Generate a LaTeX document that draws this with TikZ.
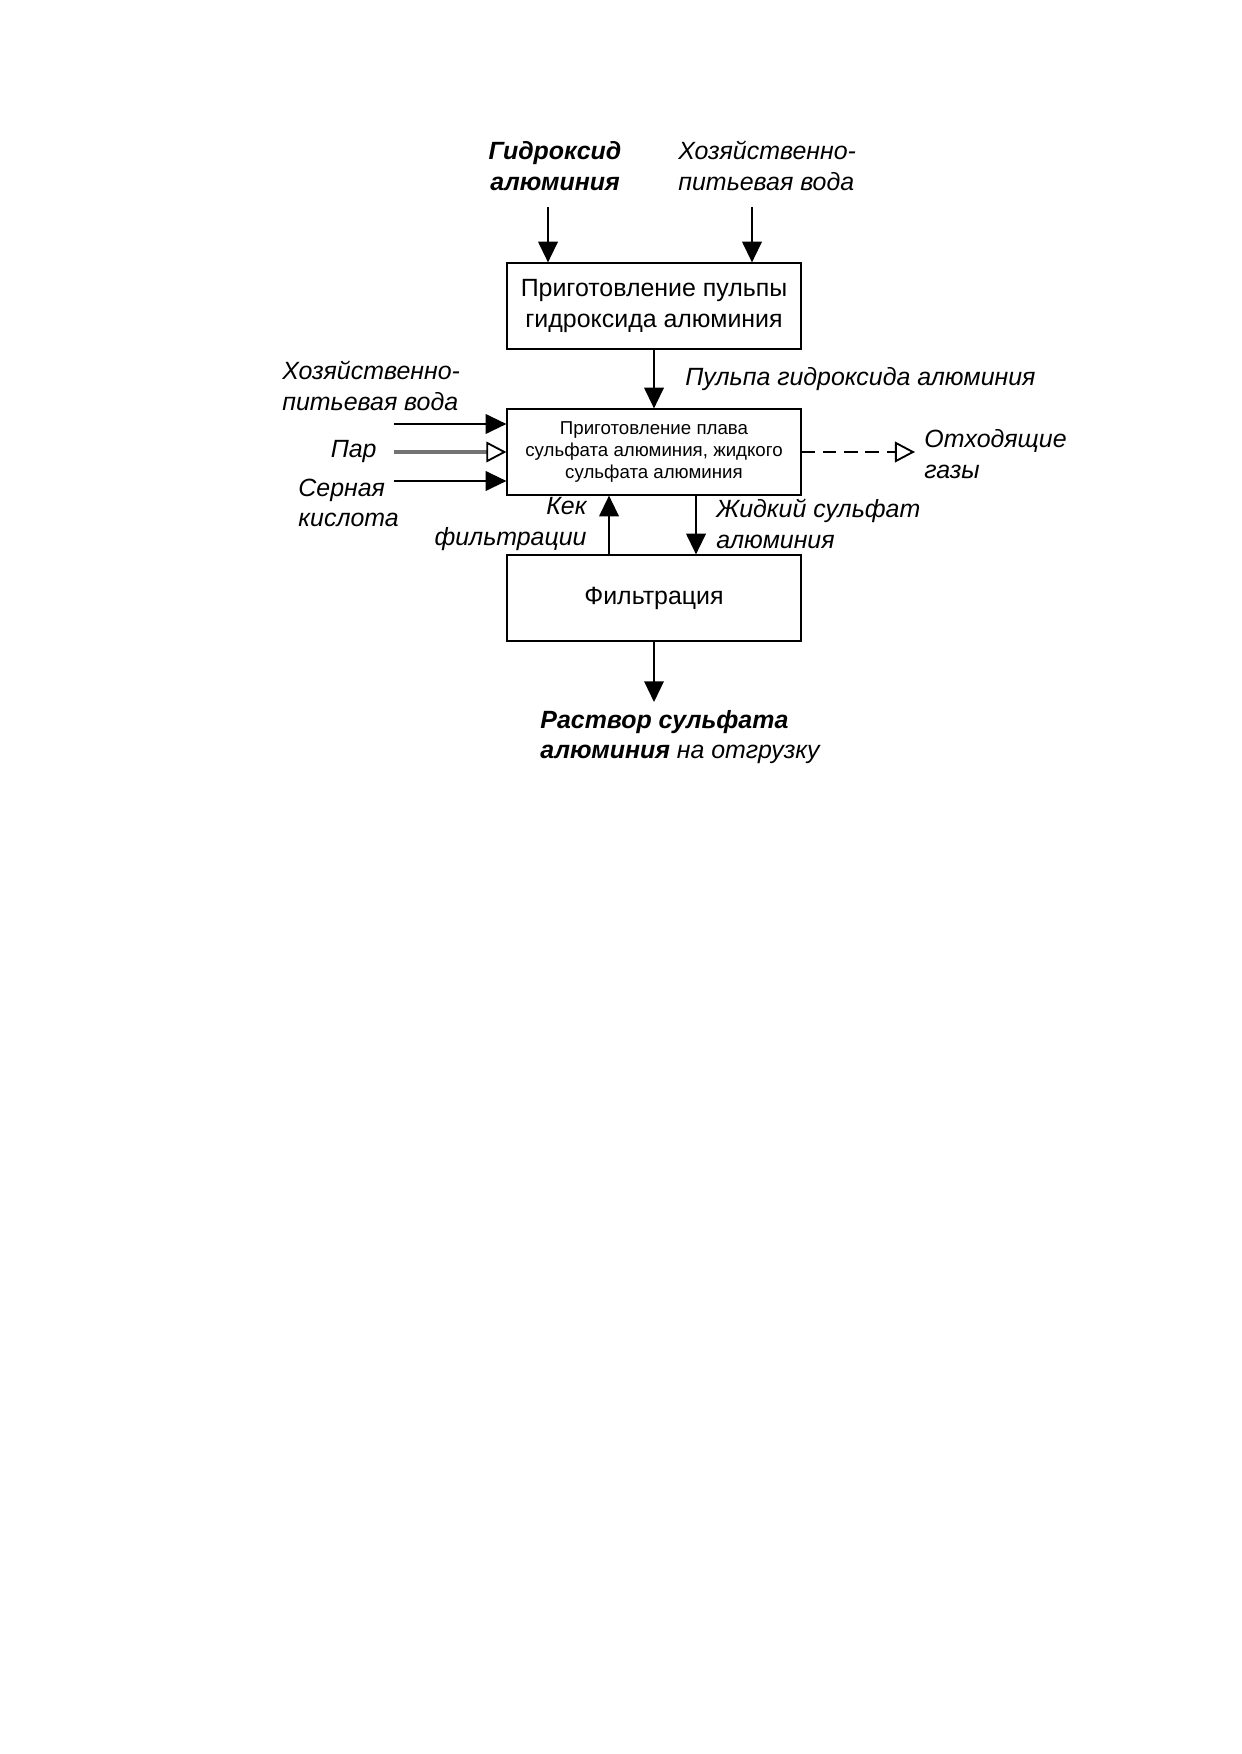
\documentclass[tikz,border=0pt]{standalone}
\usepackage{fontspec}
\setmainfont{Liberation Sans}
\usetikzlibrary{arrows.meta}

\tikzset{
  proc/.style={draw,line width=1pt,minimum width=49.6mm,minimum height=14.4mm,align=center,inner sep=1pt},
  lbl/.style={inner sep=0pt,font=\fontsize{12}{14.6}\selectfont\itshape},
  flow/.style={line width=0.9pt,-{Triangle[length=3.5mm,width=3.3mm]}},
  flowopen/.style={line width=0.9pt,-{Triangle[open,length=3.4mm,width=3.5mm]}},
}

\begin{document}
\begin{tikzpicture}[x=0.16922mm,y=-0.16922mm]
          \useasboundingbox (0,0) rectangle (1241,1754);

          % boxes
          \node[proc,font=\fontsize{12}{14.5}\selectfont] (pulp) at (654,306) {Приготовление пульпы\\гидроксида алюминия};
          \node[proc,font=\fontsize{9}{10.8}\selectfont] (melt) at (654,452) {Приготовление плава\\сульфата алюминия, жидкого\\сульфата алюминия};
          \node[proc,font=\fontsize{12}{14.5}\selectfont] (filt) at (654,598) {Фильтрация};

          % labels
          \node[lbl,align=center] (hydr) at (555,166) {\bfseries Гидроксид\\\bfseries алюминия};
          \node[lbl,align=left,anchor=west] (waterA) at (678,166) {Хозяйственно-\\питьевая вода};
          \node[lbl,align=left,anchor=west] (pulpLbl) at (685,379) {Пульпа гидроксида алюминия};
          \node[lbl,align=left,anchor=west] (waterB) at (282,386) {Хозяйственно-\\питьевая вода};
          \node[lbl,anchor=east] (steam) at (377,452) {Пар};
          \node[lbl,align=left,anchor=west] (acid) at (298,503) {Серная\\кислота};
          \node[lbl,align=left,anchor=west] (gas) at (924,454) {Отходящие\\газы};
          \node[lbl,align=right,anchor=east] (cake) at (587,524) {Кек\\фильтрации};
          \node[lbl,align=left,anchor=west] (liquid) at (716,524) {Жидкий сульфат\\алюминия};
          \node[lbl,align=left,anchor=west] (prod) at (540,737) {\bfseries Раствор сульфата\\\textbf{алюминия} на отгрузку};

          % free ends
          \coordinate (inA) at (548,207);
          \coordinate (inB) at (752,207);
          \coordinate (inW) at (394,424);
          \coordinate (inS) at (394,452);
          \coordinate (inH) at (394,481);
          \coordinate (outG) at (915,452);
          \coordinate (outP) at (654,702);

          % connectors
          \draw[flow] (inA) -- (inA |- pulp.north);
          \draw[flow] (inB) -- (inB |- pulp.north);
          \draw[flow] (pulp.south) -- (melt.north);
          \draw[flow] (inW) -- (inW -| melt.west);
          \draw[flowopen,draw=black!55,line width=1.5pt,-{Triangle[open,length=3.4mm,width=3.5mm,line width=0.9pt,color=black]}] (inS) -- (melt.west);
          \draw[flow] (inH) -- (inH -| melt.west);
          \draw[flowopen,dash pattern=on 2.3mm off 1.3mm] (melt.east) -- (outG);
          \draw[flow] (filt.north -| 609,0) -- (melt.south -| 609,0);
          \draw[flow] (melt.south -| 696,0) -- (filt.north -| 696,0);
          \draw[flow] (filt.south) -- (outP);
\end{tikzpicture}
\end{document}
